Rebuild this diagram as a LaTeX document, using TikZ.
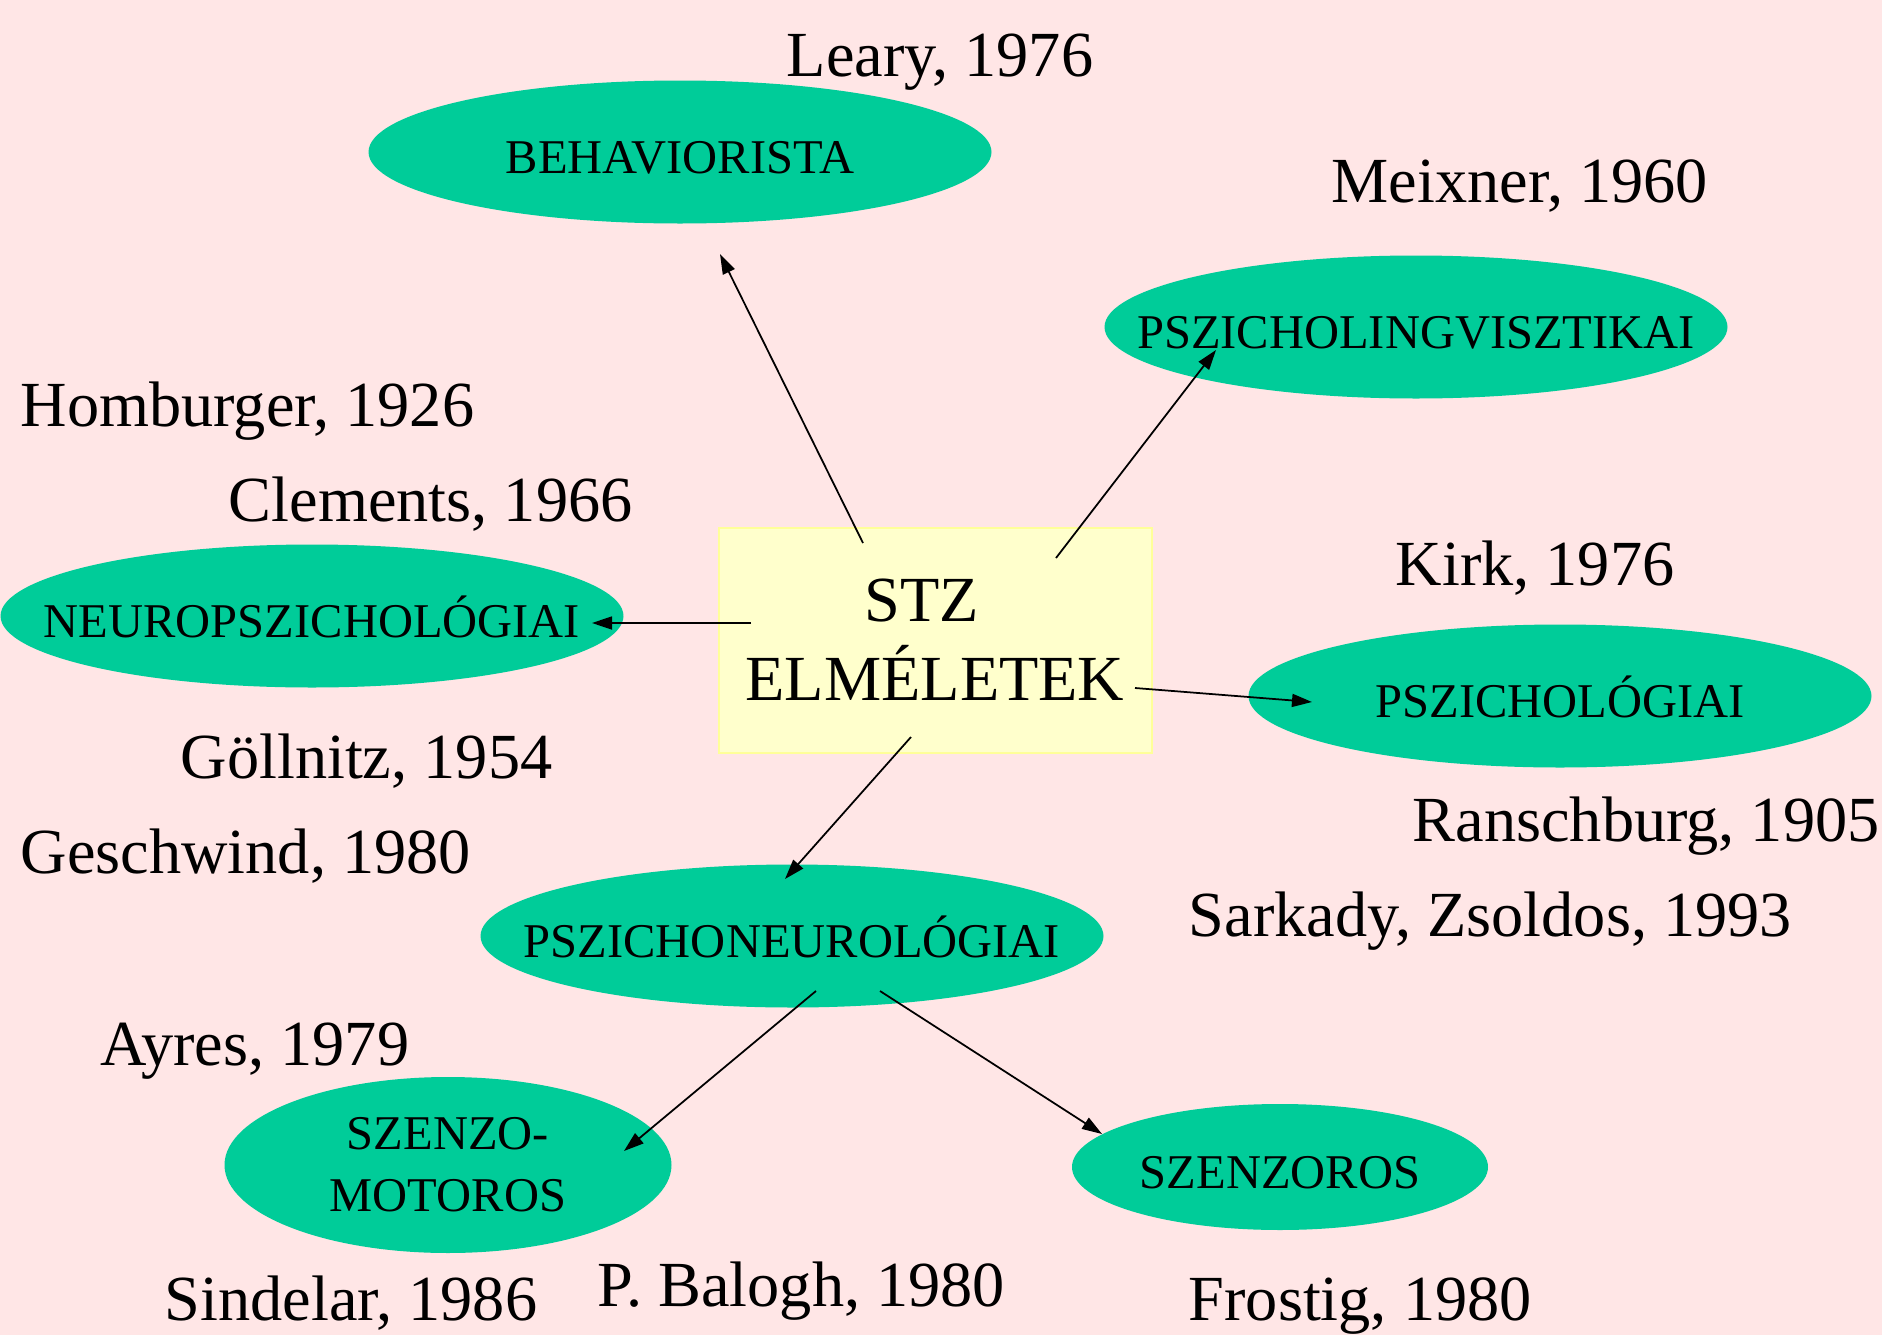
\documentclass[tikz,border=0pt]{standalone}
\usepackage{fontspec}
\setmainfont{Liberation Serif}
\usetikzlibrary{shapes.geometric,arrows.meta}
\definecolor{bgpink}{RGB}{255,230,230}
\definecolor{theorygreen}{RGB}{0,204,153}
\definecolor{boxyellow}{RGB}{255,255,204}
\definecolor{boxframe}{RGB}{255,255,153}
% keep the ellipse at its own size, whatever the text
\newcommand{\thname}[1]{\makebox[0pt]{#1}}

\begin{document}
\begin{tikzpicture}[x=0.1mm,y=-0.1mm]
\tikzstyle{every node}=[font=\fontsize{18.3}{22.5}\selectfont]
\tikzstyle{theory}=[ellipse,fill=theorygreen,inner sep=0pt,minimum width=62.3mm,minimum height=14.3mm,font=\fontsize{13.8}{17.6}\selectfont,text height=4.2mm,text depth=0pt]
\tikzstyle{author}=[anchor=base west,inner sep=0pt]
\tikzstyle{arr}=[-{Triangle[length=2mm,width=1.3mm]},line width=0.5pt]

% pink background, it also fixes the size
\fill[bgpink] (0,0) rectangle (1882,1335);
\useasboundingbox (0,0) rectangle (1882,1335);

% centre box
\node[fill=boxyellow,draw=boxframe,line width=0.2mm,minimum width=43.3mm,minimum height=22.5mm,align=center] (stz) at (935,640) {STZ\kern2.6mm\\ELMÉLETEK};

% the theories
\node[theory] (beh) at (680,152) {\thname{BEHAVIORISTA}};
\node[theory] (ling) at (1416,327) {\thname{PSZICHOLINGVISZTIKAI}};
\node[theory] (neuro) at (312,616) {\thname{NEUROPSZICHOLÓGIAI}};
\node[theory] (psy) at (1560,696) {\thname{PSZICHOLÓGIAI}};
\node[theory] (pn) at (792,936) {\thname{PSZICHONEUROLÓGIAI}};
\node[theory,text height=,text depth=,align=center,minimum width=44.7mm,minimum height=17.6mm] (szm) at (448,1165) {SZENZO-\\MOTOROS};
\node[theory,minimum width=41.6mm,minimum height=12.6mm] (szo) at (1280,1167) {\thname{SZENZOROS}};

% authors
\node[author] (leary) at (786,76) {Leary, 1976};
\node[author] (meixner) at (1331,202) {Meixner, 1960};
\node[author] (homburger) at (20,426) {Homburger, 1926};
\node[author] (clements) at (228,521) {Clements, 1966};
\node[author] (kirk) at (1395,585) {Kirk, 1976};
\node[author] (gollnitz) at (180,778) {Göllnitz, 1954};
\node[author] (ranschburg) at (1412,841) {Ranschburg, 1905};
\node[author] (geschwind) at (20,873) {Geschwind, 1980};
\node[author] (sarkady) at (1188,936) {Sarkady, Zsoldos, 1993};
\node[author] (ayres) at (100,1065) {Ayres, 1979};
\node[author] (sindelar) at (164,1320) {Sindelar, 1986};
\node[author] (balogh) at (597,1306) {P. Balogh, 1980};
\node[author] (frostig) at (1188,1320) {Frostig, 1980};

% arrows
\draw[arr] ([shift={(-72,-97)}]stz.center) -- ([shift={(40,102)}]beh.center);
\draw[arr] ([shift={(121,-82)}]stz.center) -- ([shift={(-200,23)}]ling.center);
\draw[arr] ([shift={(-184,-17)}]stz.center) -- ([shift={(280,7)}]neuro.center);
\draw[arr] ([shift={(200,48)}]stz.center) -- ([shift={(-248,6)}]psy.center);
\draw[arr] ([shift={(-24,97)}]stz.center) -- ([shift={(-7,-57)}]pn.center);
\draw[arr] ([shift={(24,55)}]pn.center) -- ([shift={(176,-14)}]szm.center);
\draw[arr] ([shift={(88,55)}]pn.center) -- ([shift={(-178,-33)}]szo.center);

\end{tikzpicture}
\end{document}
